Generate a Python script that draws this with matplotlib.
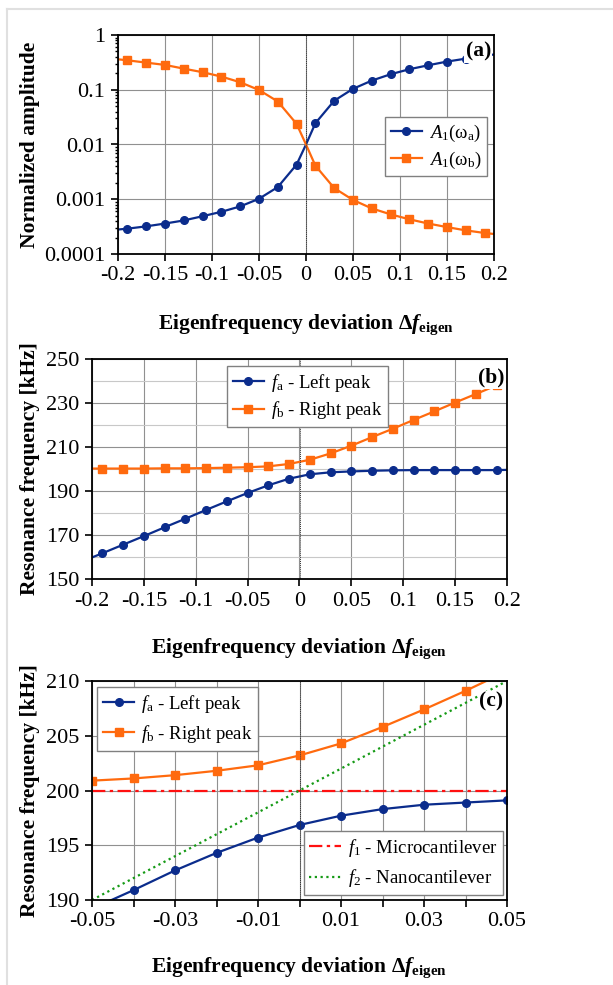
import numpy as np
import matplotlib
matplotlib.use("Agg")
import matplotlib.pyplot as plt
from matplotlib.ticker import FixedLocator, NullFormatter, FuncFormatter

plt.rcParams['font.family'] = ['Liberation Serif', 'DejaVu Serif']
plt.rcParams['mathtext.fontset'] = 'custom'
plt.rcParams['mathtext.rm'] = 'Liberation Serif'
plt.rcParams['mathtext.it'] = 'Liberation Serif:italic'
plt.rcParams['mathtext.bf'] = 'Liberation Serif:bold'
plt.rcParams['mathtext.bfit'] = 'Liberation Serif:bold:italic'
plt.rcParams['axes.unicode_minus'] = False

BLUE = '#0b2c8c'
ORANGE = '#ff6a0e'

# panel (a): normalized amplitude
dev_a = [-0.2, -0.19, -0.17, -0.15, -0.13, -0.11, -0.09, -0.07, -0.05, -0.03, -0.01,
         0.0, 0.01, 0.03, 0.05, 0.07, 0.09, 0.11, 0.13, 0.15, 0.17, 0.19, 0.2]
amp_a = [0.00028, 0.00029, 0.00032, 0.00036, 0.00041, 0.00049, 0.00059, 0.00074, 0.00102,
         0.00167, 0.0043, 0.01, 0.0245, 0.063, 0.104, 0.147, 0.192, 0.237, 0.28, 0.327,
         0.37, 0.42, 0.44]
amp_b = [0.36, 0.345, 0.313, 0.284, 0.243, 0.209, 0.174, 0.137, 0.099, 0.061, 0.0238,
         0.01, 0.0041, 0.0016, 0.00097, 0.00068, 0.00053, 0.00043, 0.00036, 0.00031,
         0.00027, 0.000242, 0.000232]

# panel (b): resonance frequencies over wide range
dev_b = [-0.2, -0.19, -0.17, -0.15, -0.13, -0.11, -0.09, -0.07, -0.05, -0.03, -0.01,
         0.01, 0.03, 0.05, 0.07, 0.09, 0.11, 0.13, 0.15, 0.17, 0.19, 0.2]
fa_b = [159.8, 161.7, 165.6, 169.5, 173.5, 177.4, 181.4, 185.3, 189.1, 192.6, 195.6,
        197.6, 198.5, 198.9, 199.2, 199.4, 199.5, 199.5, 199.5, 199.5, 199.5, 199.6]
fb_b = [200.2, 200.2, 200.2, 200.2, 200.3, 200.3, 200.4, 200.6, 200.8, 201.2, 202.3,
        204.2, 207.1, 210.6, 214.5, 218.3, 222.3, 226.2, 230.2, 234.1, 238.0, 239.8]

# panel (c): zoom around zero
dev_c = [-0.05, -0.04, -0.03, -0.02, -0.01, 0.0, 0.01, 0.02, 0.03, 0.04, 0.05]
fa_c = [189.2, 190.9, 192.7, 194.3, 195.7, 196.85, 197.7, 198.3, 198.7, 198.9, 199.1]
fb_c = [200.9, 201.1, 201.4, 201.8, 202.3, 203.2, 204.3, 205.8, 207.4, 209.1, 210.9]
f1_dev = [-0.05, 0.05]
f1_val = [200, 200]
f2_dev = [-0.05, 0.05]
f2_val = [190, 210]

FS = 16      # tick labels
LFS = 15.5   # axis labels
GFS = 13.5   # legends
xlabel_txt = r'Eigenfrequency deviation $\mathbf{\Delta}\mathbfit{f}_{\mathbf{eigen}}$'


def style_axes(ax):
    for s in ax.spines.values():
        s.set_linewidth(1.3)
    ax.tick_params(axis='both', which='major', direction='out', length=5, width=1.2,
                   labelsize=FS, pad=4)
    ax.tick_params(axis='both', which='minor', direction='out', length=2.5, width=1.0)
    ax.set_axisbelow(True)


def fmt(v, pos=None):
    if abs(v) < 1e-9:
        return '0'
    return ('%g' % v)


def make_legend(ax, handles, spacing=0.3, **kw):
    lg = ax.legend(handles=handles, fontsize=GFS, fancybox=False, edgecolor='#808080',
                   framealpha=1, handlelength=1.7, borderpad=0.3, labelspacing=spacing,
                   handletextpad=0.35, borderaxespad=0, **kw)
    lg.get_frame().set_linewidth(1.0)
    return lg


fig = plt.figure(figsize=(6.13, 9.85), dpi=100)

# light frame around figure
fig.add_artist(plt.Line2D([7 / 613, 7 / 613], [0, 1 - 9 / 985], color='#e0e0e0', lw=1.5,
                          transform=fig.transFigure))
fig.add_artist(plt.Line2D([7 / 613, 1], [1 - 9 / 985, 1 - 9 / 985], color='#e0e0e0', lw=1.5,
                          transform=fig.transFigure))

# ---------------- (a)
ax1 = fig.add_axes([118 / 613, 1 - 254 / 985, 376 / 613, 219 / 985])
mk = list(range(1, 11)) + list(range(12, 22))
la, = ax1.plot(dev_a, amp_a, color=BLUE, lw=1.6, marker='o', ms=5.5, markevery=mk,
               label=r'$A_1(\mathrm{\omega_a})$')
lb, = ax1.plot(dev_a, amp_b, color=ORANGE, lw=1.6, marker='s', ms=5.5, markevery=mk,
               label=r'$A_1(\mathrm{\omega_b})$')
ax1.set_yscale('log')
ax1.set_xlim(-0.2, 0.2)
ax1.set_ylim(1e-4, 1)
ax1.set_xticks(np.arange(-0.2, 0.201, 0.05))
ax1.xaxis.set_major_formatter(FuncFormatter(fmt))
ax1.set_yticks([1e-4, 1e-3, 1e-2, 1e-1, 1])
ax1.set_yticklabels(['0.0001', '0.001', '0.01', '0.1', '1'])
ax1.yaxis.set_minor_formatter(NullFormatter())
ax1.grid(True, which='major', color='#909090', lw=0.8)
ax1.axvline(0, color='#333333', lw=0.7, ls=(0, (1, 1)))
style_axes(ax1)
ax1.set_ylabel('Normalized amplitude', fontsize=LFS, fontweight='bold')
ax1.yaxis.set_label_coords(-0.207, 0.5)
ax1.set_xlabel(xlabel_txt, fontsize=LFS, fontweight='bold')
ax1.xaxis.set_label_coords(0.5, -0.265)
make_legend(ax1, [la, lb], loc='upper right', bbox_to_anchor=(0.982, 0.625))
ax1.text(0.958, 0.925, '(a)', transform=ax1.transAxes, fontsize=LFS, fontweight='bold',
         ha='center', va='center', bbox=dict(facecolor='white', edgecolor='none', pad=1))

# ---------------- (b)
ax2 = fig.add_axes([92 / 613, 1 - 579 / 985, 415 / 613, 220 / 985])
mk2 = list(range(1, 21))
fa2, = ax2.plot(dev_b, fa_b, color=BLUE, lw=1.6, marker='o', ms=5.5, markevery=mk2,
                label=r'$f_\mathrm{a}$ - Left peak')
fb2, = ax2.plot(dev_b, fb_b, color=ORANGE, lw=1.6, marker='s', ms=5.5, markevery=mk2,
                label=r'$f_\mathrm{b}$ - Right peak')
ax2.set_xlim(-0.2, 0.2)
ax2.set_ylim(150, 250)
ax2.set_xticks(np.arange(-0.2, 0.201, 0.05))
ax2.xaxis.set_major_formatter(FuncFormatter(fmt))
ax2.set_yticks(np.arange(150, 251, 20))
ax2.yaxis.set_minor_locator(FixedLocator(np.arange(160, 241, 20)))
ax2.grid(True, which='major', color='#909090', lw=0.8)
ax2.grid(True, which='minor', axis='y', color='#c8c8c8', lw=0.8)
ax2.axvline(0, color='#333333', lw=0.7, ls=(0, (1, 1)))
style_axes(ax2)
ax2.tick_params(axis='y', which='minor', length=0)
ax2.set_ylabel('Resonance frequency [kHz]', fontsize=LFS, fontweight='bold')
ax2.yaxis.set_label_coords(-0.125, 0.5)
ax2.set_xlabel(xlabel_txt, fontsize=LFS, fontweight='bold')
ax2.xaxis.set_label_coords(0.5, -0.26)
make_legend(ax2, [fa2, fb2], loc='upper left', bbox_to_anchor=(0.325, 0.968))
ax2.text(0.962, 0.915, '(b)', transform=ax2.transAxes, fontsize=LFS, fontweight='bold',
         ha='center', va='center', bbox=dict(facecolor='white', edgecolor='none', pad=1))

# ---------------- (c)
ax3 = fig.add_axes([92 / 613, 1 - 900 / 985, 415 / 613, 219 / 985])
l1, = ax3.plot(dev_c, fa_c, color=BLUE, lw=1.6, marker='o', ms=5.5,
               label=r'$f_\mathrm{a}$ - Left peak')
l2, = ax3.plot(dev_c, fb_c, color=ORANGE, lw=1.6, marker='s', ms=5.5,
               label=r'$f_\mathrm{b}$ - Right peak')
l3, = ax3.plot(f1_dev, f1_val, color='#ff1010', lw=1.6, ls=(0, (6, 2, 1.5, 2)),
               label=r'$f_1$ - Microcantilever')
l4, = ax3.plot(f2_dev, f2_val, color='#159a15', lw=1.6, ls=(0, (1, 1.6)),
               label=r'$f_2$ - Nanocantilever')
ax3.set_xlim(-0.05, 0.05)
ax3.set_ylim(190, 210)
ax3.set_xticks(np.arange(-0.05, 0.0501, 0.01))
ax3.xaxis.set_major_formatter(FuncFormatter(
    lambda v, p: ('%.2f' % v) if round(abs(v) * 100) % 2 == 1 else ''))
ax3.set_yticks(np.arange(190, 211, 5))
ax3.grid(True, which='major', color='#909090', lw=0.8)
ax3.axvline(0, color='#333333', lw=0.7, ls=(0, (1, 1)))
style_axes(ax3)
ax3.set_ylabel('Resonance frequency [kHz]', fontsize=LFS, fontweight='bold')
ax3.yaxis.set_label_coords(-0.125, 0.5)
ax3.set_xlabel(xlabel_txt, fontsize=LFS, fontweight='bold')
ax3.xaxis.set_label_coords(0.5, -0.255)
lg1 = make_legend(ax3, [l1, l2], spacing=0.45, loc='upper left',
                  bbox_to_anchor=(0.012, 0.973))
ax3.add_artist(lg1)
make_legend(ax3, [l3, l4], spacing=0.45, loc='lower right', bbox_to_anchor=(0.99, 0.023))
ax3.text(0.962, 0.905, '(c)', transform=ax3.transAxes, fontsize=LFS, fontweight='bold',
         ha='center', va='center', bbox=dict(facecolor='white', edgecolor='none', pad=1))

fig.savefig('out.png', dpi=100)
